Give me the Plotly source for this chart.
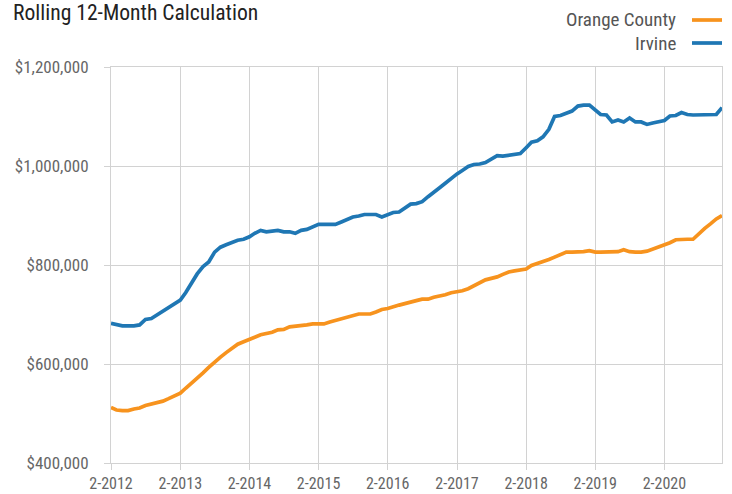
import pandas as pd
import plotly.graph_objects as go

# Monthly dates: 2-2012 through 12-2020
months = [d.strftime("%Y-%m-%d") for d in pd.date_range("2012-02-01", "2020-12-01", freq="MS")]

orange_county = [
    512, 507, 506, 506, 509, 511, 516, 519, 522, 525, 530, 535,
    541, 551, 561, 571, 582, 593, 604, 614, 623, 632, 640, 645,
    649, 654, 659, 661, 664, 669, 670, 675, 676, 678, 679, 681,
    681, 681, 685, 688, 691, 695, 699, 701, 701, 701, 705, 710,
    712, 716, 719, 722, 726, 728, 731, 731, 735, 737, 740, 744,
    746, 748, 752, 758, 765, 770, 773, 776, 781, 786, 788, 790,
    792, 799, 803, 806, 811, 816, 821, 826, 826, 826, 827, 829,
    826, 826, 826, 826, 827, 831, 827, 826, 826, 828, 832, 836,
    841, 845, 851, 852, 852, 852, 864, 874, 883, 893, 900,
]
orange_county = [v * 1000 for v in orange_county]

irvine = [
    682, 680, 677, 677, 677, 679, 690, 692, 699, 706, 713, 720,
    729, 744, 763, 782, 797, 806, 826, 836, 841, 845, 850, 852,
    857, 864, 870, 867, 869, 870, 867, 867, 864, 870, 872, 877,
    882, 882, 882, 882, 887, 892, 897, 899, 902, 902, 902, 897,
    901, 906, 907, 916, 923, 924, 928, 938, 948, 956, 965, 975,
    984, 991, 999, 1003, 1004, 1007, 1015, 1021, 1020, 1022, 1023, 1025,
    1037, 1048, 1051, 1059, 1074, 1100, 1102, 1106, 1111, 1121, 1123, 1123,
    1113, 1104, 1103, 1089, 1093, 1089, 1097, 1089, 1089, 1084, 1087, 1089,
    1092, 1101, 1102, 1108, 1104, 1103, 1103, 1103, 1103, 1104, 1118,
]
irvine = [v * 1000 for v in irvine]

series_names = ["Orange County", "Irvine"]
series_colors = ["#f7931e", "#1f77b4"]

y_ticks = [400000, 600000, 800000, 1000000, 1200000]

FONT = "Liberation Sans Narrow, Roboto Condensed, Arial Narrow, sans-serif"
GRID = "#d2d2d2"

W, H = 732, 494
L, R, T, B = 111, 10, 67, 31
PW, PH = W - L - R, H - T - B

fig = go.Figure()
for name, vals, col in zip(series_names, [orange_county, irvine], series_colors):
    fig.add_trace(go.Scatter(
        x=months, y=vals, mode="lines", name=name,
        line=dict(color=col, width=3.7), showlegend=False, cliponaxis=False,
    ))

fig.update_layout(
    width=W, height=H,
    margin=dict(l=L, r=R, t=T, b=B, autoexpand=False),
    paper_bgcolor="white", plot_bgcolor="white",
    font=dict(family=FONT, color="#666666", size=17),
    title=dict(
        text="Rolling 12-Month Calculation",
        font=dict(family=FONT, size=21.6, color="#222222"),
        xref="container", yref="container",
        x=13 / W, xanchor="left", y=1 - 12 / H, yanchor="middle",
    ),
)

fig.update_xaxes(
    type="date",
    range=[months[0], months[-1]],
    tickmode="linear", tick0="2012-02-01", dtick="M12",
    tickformat="%-m-%Y",
    showgrid=True, gridcolor=GRID, gridwidth=1,
    showline=True, linecolor=GRID, linewidth=1, mirror=True,
    ticks="outside", ticklen=6, tickcolor=GRID,
    ticklabelstandoff=0, automargin=False,
    tickfont=dict(family=FONT, size=16, color="#666666"),
    zeroline=False,
)
fig.update_yaxes(
    range=[400000, 1200000],
    tickvals=y_ticks,
    tickformat="$,.0f",
    showgrid=True, gridcolor=GRID, gridwidth=1,
    showline=True, linecolor=GRID, linewidth=1, mirror=True,
    ticks="outside", ticklen=6, tickcolor=GRID,
    ticklabelstandoff=12, automargin=False,
    tickfont=dict(family=FONT, size=17, color="#666666"),
    zeroline=False,
)

# Legend drawn at top right: text on the left, line sample on the right
legend_rows = [20, 43]
for name, col, ypx in zip(series_names, series_colors, legend_rows):
    yy = 1 + (T - ypx) / PH
    fig.add_annotation(
        text=name, xref="paper", yref="paper",
        x=(678 - L) / PW, xanchor="right",
        y=yy, yanchor="middle",
        showarrow=False,
        font=dict(family=FONT, size=19, color="#555555"),
    )
    fig.add_shape(
        type="line", xref="paper", yref="paper",
        x0=(692 - L) / PW, x1=(722 - L) / PW,
        y0=yy, y1=yy,
        line=dict(color=col, width=3.7),
    )

fig.write_html(
    "out.html",
    config={"displayModeBar": False},
    post_script="document.body.style.margin='0';document.body.style.overflow='hidden';",
)
